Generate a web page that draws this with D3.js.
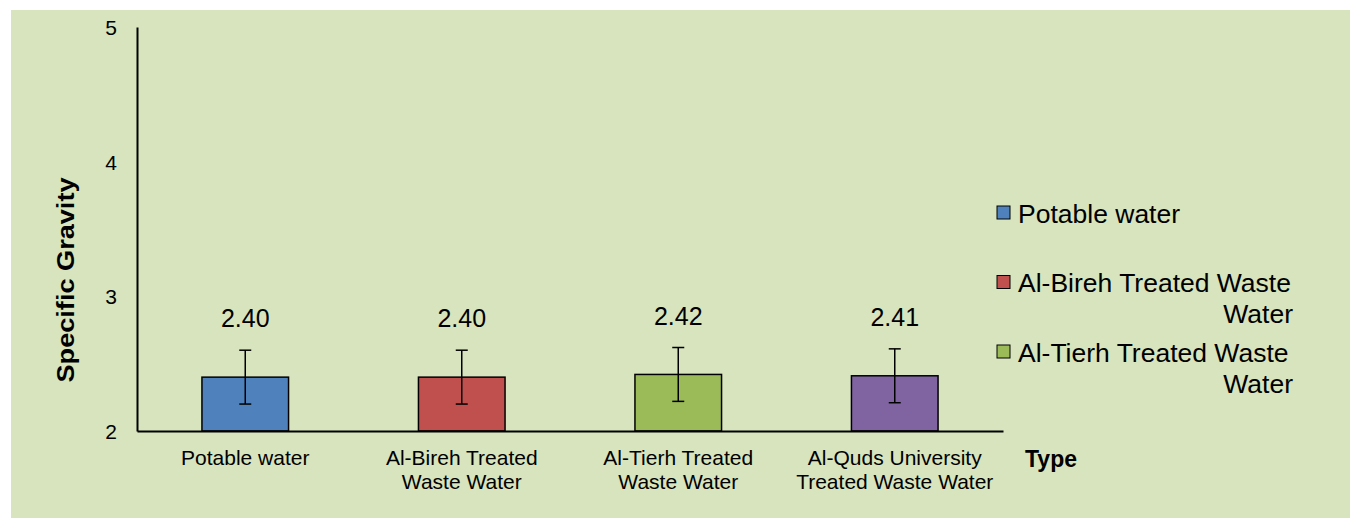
<!DOCTYPE html>
<html>
<head>
<meta charset="utf-8">
<script src="https://cdn.jsdelivr.net/npm/d3@7"></script>
<style>
  body { margin: 0; background: #fff; }
  text { font-family: "Liberation Sans", Arial, sans-serif; fill: #000; }
</style>
</head>
<body>
<div id="chart"></div>
<script>
// chart data
var categories = ["Potable water", "Al-Bireh Treated Waste Water", "Al-Tierh Treated Waste Water", "Al-Quds University Treated Waste Water"];
var values = [2.40, 2.40, 2.42, 2.41];
var errors = [0.2, 0.2, 0.2, 0.2];
var colors = ["#4F81BD", "#C0504D", "#9BBB59", "#8064A2"];
var tickLines = [["Potable water"], ["Al-Bireh Treated", "Waste Water"], ["Al-Tierh Treated", "Waste Water"], ["Al-Quds University", "Treated Waste Water"]];
var legendLines = [["Potable water"], ["Al-Bireh Treated Waste", "Water"], ["Al-Tierh Treated Waste", "Water"]];
var yTicks = [2, 3, 4, 5];

var width = 1350, height = 518;
var margin = { top: 27, left: 137, right: 347, bottom: 87 };

var svg = d3.select("#chart").append("svg")
  .attr("width", width)
  .attr("height", height);

//background panel
svg.append("rect")
  .attr("x", 11).attr("y", 10)
  .attr("width", width - 11).attr("height", height - 10)
  .attr("fill", "#D7E4BD");

var x = d3.scaleBand()
  .domain(categories)
  .range([margin.left, width - margin.right])
  .paddingInner(0.6)
  .paddingOuter(0.3);

var y = d3.scaleLinear()
  .domain([2, 5])
  .range([height - margin.bottom, margin.top]);

//y axis
var yAxis = svg.append("g")
  .attr("transform", "translate(" + margin.left + ",0)")
  .call(d3.axisLeft(y).tickValues(yTicks).tickSize(0).tickPadding(20).tickFormat(d3.format("d")));
yAxis.select(".domain").attr("stroke", "#000").attr("stroke-width", 2);
yAxis.selectAll("text").attr("font-size", 21).attr("dy", "0.36em");

//bars
svg.selectAll("rect.bar").data(categories).enter()
  .append("rect")
  .attr("class", "bar")
  .attr("x", function (d) { return x(d); })
  .attr("y", function (d, i) { return y(values[i]); })
  .attr("width", x.bandwidth())
  .attr("height", function (d, i) { return y(2) - y(values[i]); })
  .attr("fill", function (d, i) { return colors[i]; })
  .attr("stroke", "#000")
  .attr("stroke-width", 1.5);

//error bars
var err = svg.selectAll("g.err").data(categories).enter()
  .append("g").attr("class", "err")
  .attr("stroke", "#000").attr("stroke-width", 1.5);
err.append("line")
  .attr("x1", function (d) { return x(d) + x.bandwidth() / 2; })
  .attr("x2", function (d) { return x(d) + x.bandwidth() / 2; })
  .attr("y1", function (d, i) { return y(values[i] + errors[i]); })
  .attr("y2", function (d, i) { return y(values[i] - errors[i]); });
[1, -1].forEach(function (s) {
  err.append("line")
    .attr("x1", function (d) { return x(d) + x.bandwidth() / 2 - 6; })
    .attr("x2", function (d) { return x(d) + x.bandwidth() / 2 + 6; })
    .attr("y1", function (d, i) { return y(values[i] + s * errors[i]); })
    .attr("y2", function (d, i) { return y(values[i] + s * errors[i]); });
});

//value labels
svg.selectAll("text.val").data(categories).enter()
  .append("text")
  .attr("class", "val")
  .attr("x", function (d) { return x(d) + x.bandwidth() / 2; })
  .attr("y", function (d, i) { return y(values[i] + errors[i]) - 23; })
  .attr("text-anchor", "middle")
  .attr("font-size", 25)
  .text(function (d, i) { return values[i].toFixed(2); });

//x axis
var xAxis = svg.append("g")
  .attr("transform", "translate(0," + y(2) + ")")
  .call(d3.axisBottom(x).tickSize(0).tickSizeOuter(0));
xAxis.select(".domain").attr("stroke", "#000").attr("stroke-width", 2);
xAxis.selectAll(".tick text").remove();
xAxis.selectAll(".tick").each(function (d, i) {
  var t = d3.select(this).append("text")
    .attr("text-anchor", "middle")
    .attr("font-size", 21);
  tickLines[i].forEach(function (line, j) {
    t.append("tspan").attr("x", 0).attr("y", 34 + j * 24).text(line);
  });
});

//axis titles
svg.append("text")
  .attr("transform", "translate(74,280) rotate(-90)")
  .attr("text-anchor", "middle")
  .attr("font-size", 24)
  .attr("font-weight", "bold")
  .attr("textLength", 205)
  .attr("lengthAdjust", "spacingAndGlyphs")
  .text("Specific Gravity");
svg.append("text")
  .attr("x", 1025).attr("y", 467)
  .attr("font-size", 23)
  .attr("font-weight", "bold")
  .text("Type");

//legend
var legend = svg.append("g");
var items = legend.selectAll("g").data(legendLines).enter()
  .append("g")
  .attr("transform", function (d, i) { return "translate(997," + (213 + i * 69.5) + ")"; });
items.append("rect")
  .attr("x", 0).attr("y", -7)
  .attr("width", 13).attr("height", 13)
  .attr("fill", function (d, i) { return colors[i]; })
  .attr("stroke", "#000").attr("stroke-width", 1);
items.each(function (lines) {
  var g = d3.select(this);
  lines.forEach(function (line, j) {
    g.append("text")
      .attr("x", j === 0 ? 21 : 296)
      .attr("y", j * 31)
      .attr("dy", "0.36em")
      .attr("text-anchor", j === 0 ? "start" : "end")
      .attr("font-size", 26.5)
      .text(line);
  });
});
</script>
</body>
</html>
